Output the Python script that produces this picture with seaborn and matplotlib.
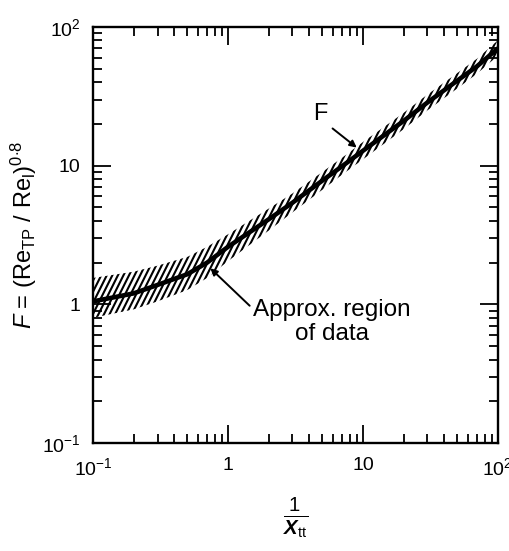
import matplotlib
matplotlib.use("Agg")
import matplotlib.pyplot as plt
import matplotlib.hatch as mhatch
from matplotlib.path import Path
import seaborn as sns
import numpy as np
import pandas as pd
from matplotlib.ticker import FixedLocator, FixedFormatter, LogLocator, NullFormatter

# values (1/Xtt vs F)
inv_xtt = [0.1, 0.2, 0.3, 0.5, 0.7, 1, 2, 3, 5, 7, 10, 20, 30, 50, 70, 100]
f_val = [1.05, 1.2, 1.38, 1.65, 2.0, 2.6, 4.1, 5.4, 7.8, 9.9, 12.8, 21, 28.5, 41, 52, 70]
f_hi = [1.55, 1.72, 1.9, 2.2, 2.6, 3.2, 4.9, 6.3, 9.0, 11.4, 14.8, 24, 32.5, 46.5, 59, 80]
f_lo = [0.8, 0.92, 1.05, 1.27, 1.55, 2.05, 3.4, 4.6, 6.7, 8.6, 11.1, 18.3, 25, 36, 46, 62]

tick_vals = [0.1, 1, 10, 100]
tick_txt = [r"$10^{-1}$", "1", "10", r"$10^{2}$"]


class SteepHatch(mhatch.HatchPatternBase):
    # '/' hatch drawn steeper (slope 2) like the printed figure
    def __init__(self, hatch, density):
        n = int(hatch.count('/') * density)
        self.n = n + (n % 2)
        self.offsets = np.arange(-self.n // 2 - 1, self.n + 1) / self.n if self.n else []
        self.num_vertices = 2 * len(self.offsets)

    def set_vertices_and_codes(self, vertices, codes):
        vertices[0::2, 0] = self.offsets
        vertices[0::2, 1] = 0.0
        vertices[1::2, 0] = self.offsets + 0.5
        vertices[1::2, 1] = 1.0
        codes[0::2] = Path.MOVETO
        codes[1::2] = Path.LINETO


mhatch._hatch_types = [SteepHatch if h is mhatch.NorthEastHatch else h
                       for h in mhatch._hatch_types]

sns.set_theme(style="ticks")
plt.rcParams["font.family"] = ["Liberation Sans", "DejaVu Sans"]
plt.rcParams["text.color"] = "black"
plt.rcParams["axes.labelcolor"] = "black"
plt.rcParams["mathtext.fontset"] = "custom"
plt.rcParams["mathtext.rm"] = "Liberation Sans"
plt.rcParams["mathtext.it"] = "Liberation Sans:italic"
plt.rcParams["mathtext.bf"] = "Liberation Sans:bold"
plt.rcParams["mathtext.bfit"] = "Liberation Sans:bold:italic"
plt.rcParams["hatch.linewidth"] = 1.5

df = pd.DataFrame({"x": inv_xtt, "F": f_val, "hi": f_hi, "lo": f_lo})

fig = plt.figure(figsize=(5.09, 5.51), dpi=100)
ax = fig.add_axes([0.183, 0.196, 0.795, 0.755])

ax.fill_between(df["x"], df["lo"], df["hi"], facecolor="none",
                edgecolor="black", hatch="///", linewidth=0)
sns.lineplot(data=df, x="x", y="F", ax=ax, color="black", linewidth=3.3)

ax.set_xscale("log")
ax.set_yscale("log")
ax.set_xlim(0.1, 100)
ax.set_ylim(0.1, 100)

for axis in (ax.xaxis, ax.yaxis):
    axis.set_major_locator(FixedLocator(tick_vals))
    axis.set_major_formatter(FixedFormatter(tick_txt))
    axis.set_minor_locator(LogLocator(base=10, subs=np.arange(2, 10)))
    axis.set_minor_formatter(NullFormatter())

ax.tick_params(which="both", direction="in", top=True, right=True,
               width=1.3, colors="black", labelsize=14)
ax.tick_params(which="major", length=13)
ax.tick_params(which="minor", length=6.5)
ax.tick_params(axis="x", which="major", pad=10)
ax.tick_params(axis="y", which="major", pad=9)
for sp in ax.spines.values():
    sp.set_linewidth(1.7)
    sp.set_color("black")

ax.set_xlabel(r"$\frac{1}{\mathbfit{X}_{\mathrm{tt}}}$", fontsize=21, labelpad=12)
ax.set_ylabel(r"$\mathit{F}$ = (Re$_{\mathrm{TP}}$ / Re$_{\mathrm{l}}$)$^{0{\cdot}8}$",
              fontsize=17, labelpad=2)

ax.annotate("F", xy=(9.0, 13.5), xytext=(4.8, 23.5), fontsize=17,
            ha="center", va="center",
            arrowprops=dict(arrowstyle="-|>", color="black", lw=1.4,
                            mutation_scale=10, shrinkA=2, shrinkB=0,
                            relpos=(0.9, 0.1)))
ax.annotate("Approx. region\nof data", xy=(0.74, 1.82), xytext=(1.53, 0.75),
            fontsize=17.5, ha="left", va="center", multialignment="center",
            linespacing=1.1,
            arrowprops=dict(arrowstyle="-|>", color="black", lw=1.4,
                            mutation_scale=10, shrinkA=0, shrinkB=0,
                            relpos=(0.0, 0.78)))

fig.savefig("out.png", dpi=100)
